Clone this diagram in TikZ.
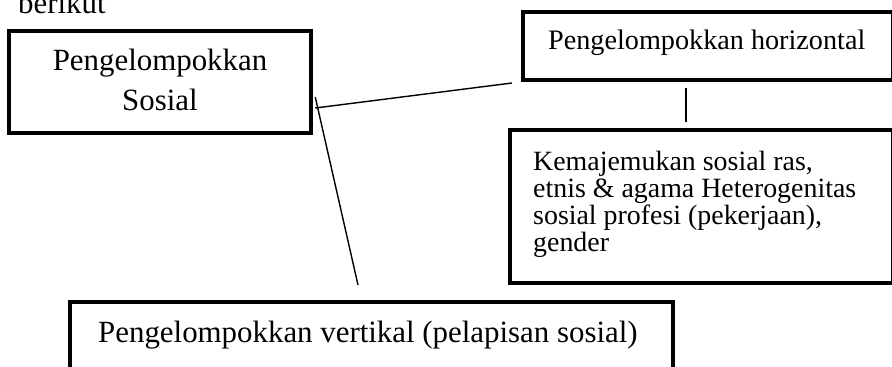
\documentclass[tikz,border=0pt]{standalone}
\usepackage{fontspec}
\setmainfont{Liberation Serif}
\begin{document}
\begin{tikzpicture}[x=1bp,y=-1bp,
  box/.style={draw=black, line width=4.5bp, rectangle, inner sep=0pt, fill=none},
  conn/.style={draw=black, line width=1.4bp},
  lbl/.style={inner sep=0pt, text=black},
  fa/.style={font=\fontsize{31}{37}\selectfont},
  fb/.style={font=\fontsize{28.3}{34}\selectfont},
  fc/.style={font=\fontsize{28}{33}\selectfont}]
\useasboundingbox (0,0) rectangle (892,366);
\clip (0,0) rectangle (892,366);
% boxes
\node[box, minimum width=302bp, minimum height=102bp] (sosial) at (160,82) {};
\node[box, minimum width=370bp, minimum height=68bp] (horiz) at (708,46) {};
\node[box, minimum width=383bp, minimum height=153bp] (ragam) at (701.5,206.5) {};
\node[box, minimum width=603bp, minimum height=98bp] (vert) at (371.5,351) {};
% texts
\node[lbl, fa, anchor=base west] (berikut) at (18,13) {berikut};
\node[lbl, fa, anchor=base] (sosialA) at (160,70) {Pengelompokkan};
\node[lbl, fa, anchor=base] (sosialB) at (160,110) {Sosial};
\node[lbl, fb, anchor=base west] (horizT) at (548,49) {Pengelompokkan horizontal};
\node[lbl, fc, anchor=base west] (ragamA) at (533,170) {Kemajemukan sosial ras,};
\node[lbl, fc, anchor=base west] (ragamB) at (533,197) {etnis \& agama Heterogenitas};
\node[lbl, fc, anchor=base west] (ragamC) at (533,224) {sosial profesi (pekerjaan),};
\node[lbl, fc, anchor=base west] (ragamD) at (533,251) {gender};
\node[lbl, fa, anchor=base west] (vertT) at (98,342) {Pengelompokkan vertikal (pelapisan sosial)};
% connectors
\coordinate (hend) at (512,83);
\coordinate (vend) at (358,285);
\coordinate (ctop) at (686,88);
\coordinate (cbot) at (686,122);
\draw[conn] ([xshift=2bp,yshift=-26bp]sosial.east) -- (hend);
\draw[conn] ([xshift=2bp,yshift=-15bp]sosial.east) -- (vend);
\draw[conn] (ctop) -- (cbot);
\end{tikzpicture}
\end{document}
